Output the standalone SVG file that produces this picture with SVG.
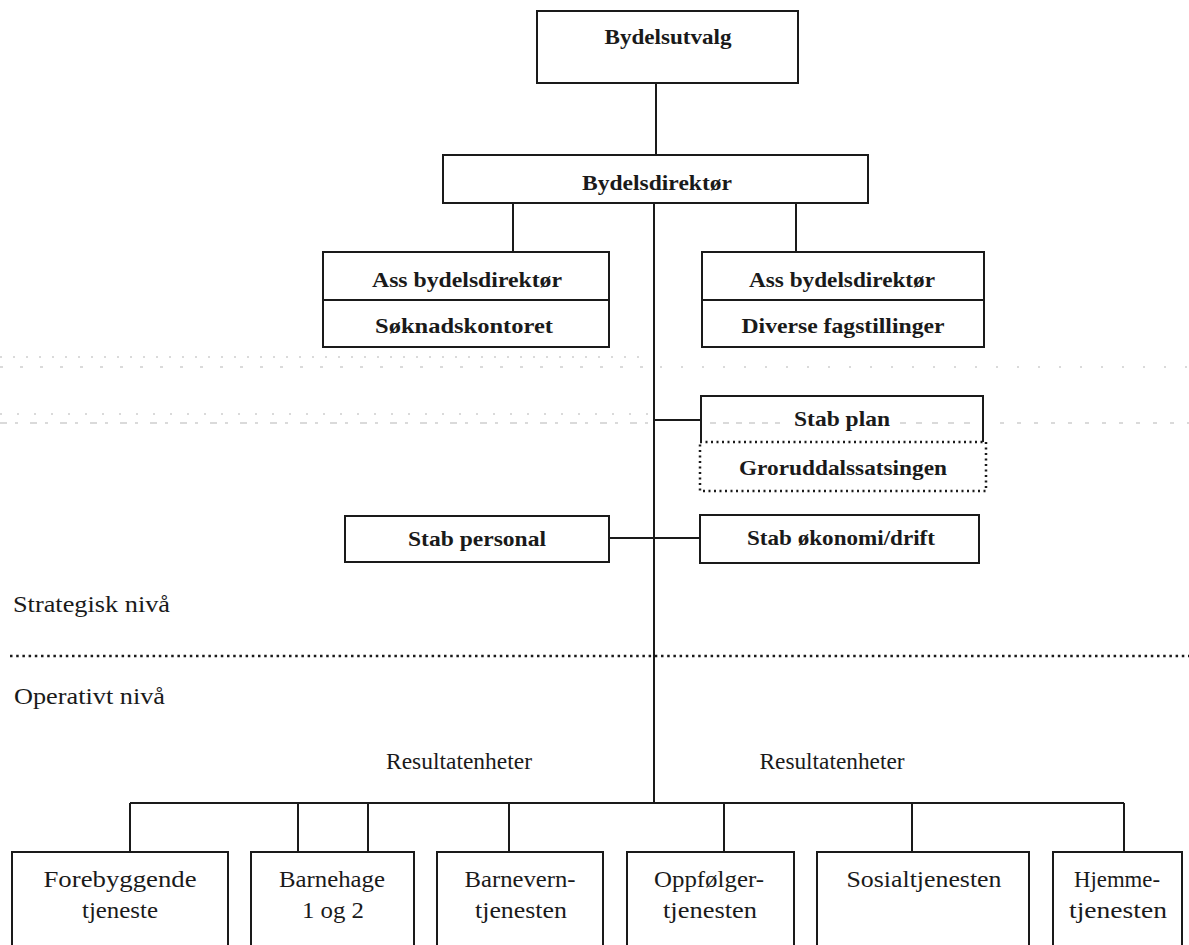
<svg xmlns="http://www.w3.org/2000/svg" width="1189" height="945" viewBox="0 0 1189 945">
<style>
.box{fill:#fff;stroke:#1a1a1a;stroke-width:2}
.dotbox{fill:none;stroke:#1a1a1a;stroke-width:2.5;stroke-dasharray:2 3.5}
.ln{fill:none;stroke:#1a1a1a;stroke-width:2}
.b{font-family:"Liberation Serif","Times New Roman",serif;font-weight:bold;font-size:21px;fill:#1a1a1a;text-anchor:middle}
.r{font-family:"Liberation Serif","Times New Roman",serif;font-size:24px;fill:#1a1a1a;text-anchor:middle}
.rl{font-family:"Liberation Serif","Times New Roman",serif;font-size:24px;fill:#1a1a1a}
.noise{fill:none;stroke:#b5b5b5;stroke-width:1.2}
</style>
<rect width="1189" height="945" fill="#fff"/>
<g id="scan-noise">
<line class="noise" x1="0" y1="357" x2="650" y2="357" stroke-dasharray="2 11"/>
<line class="noise" x1="0" y1="367" x2="650" y2="367" stroke-dasharray="3 17"/>
<line class="noise" x1="660" y1="367" x2="1189" y2="367" stroke-dasharray="2 19"/>
<line class="noise" x1="0" y1="414" x2="650" y2="414" stroke-dasharray="2 15"/>
<line class="noise" x1="0" y1="423" x2="650" y2="423" stroke-dasharray="7 8 3 12"/>
<line class="noise" x1="710" y1="423" x2="780" y2="423" stroke-dasharray="6 7"/>
<line class="noise" x1="900" y1="423" x2="975" y2="423" stroke-dasharray="6 10"/>
<line class="noise" x1="1000" y1="423" x2="1189" y2="423" stroke-dasharray="4 13"/>
</g>
<g id="connectors">
<line class="ln" x1="656" y1="83" x2="656" y2="155"/>
<line class="ln" x1="513" y1="203" x2="513" y2="252"/>
<line class="ln" x1="796" y1="203" x2="796" y2="252"/>
<line class="ln" x1="654" y1="203" x2="654" y2="803"/>
<line class="ln" x1="654" y1="420" x2="701" y2="420"/>
<line class="ln" x1="609" y1="538" x2="700" y2="538"/>
<line class="ln" x1="130" y1="803" x2="1124" y2="803"/>
<line class="ln" x1="130" y1="803" x2="130" y2="852"/>
<line class="ln" x1="298" y1="803" x2="298" y2="852"/>
<line class="ln" x1="368" y1="803" x2="368" y2="852"/>
<line class="ln" x1="509" y1="803" x2="509" y2="852"/>
<line class="ln" x1="724" y1="803" x2="724" y2="852"/>
<line class="ln" x1="912" y1="803" x2="912" y2="852"/>
<line class="ln" x1="1124" y1="803" x2="1124" y2="852"/>
</g>
<g id="level-divider">
<line x1="10" y1="656" x2="1189" y2="656" stroke="#1a1a1a" stroke-width="2.5" stroke-dasharray="2.5 3.7"/>
<text class="rl" x="13" y="612" textLength="157" lengthAdjust="spacingAndGlyphs">Strategisk nivå</text>
<text class="rl" x="14" y="704" textLength="151" lengthAdjust="spacingAndGlyphs">Operativt nivå</text>
</g>
<g id="n-bydelsutvalg">
<rect class="box" x="537" y="11" width="261" height="72"/>
<text class="b" x="668" y="44" textLength="127" lengthAdjust="spacingAndGlyphs">Bydelsutvalg</text>
</g>
<g id="n-bydelsdirektor">
<rect class="box" x="443" y="155" width="425" height="48"/>
<text class="b" x="657" y="190" textLength="150" lengthAdjust="spacingAndGlyphs">Bydelsdirektør</text>
</g>
<g id="n-ass-left">
<rect class="box" x="323" y="252" width="286" height="95"/>
<line class="ln" x1="323" y1="300" x2="609" y2="300"/>
<text class="b" x="467" y="287" textLength="190" lengthAdjust="spacingAndGlyphs">Ass bydelsdirektør</text>
<text class="b" x="464" y="333" textLength="178" lengthAdjust="spacingAndGlyphs">Søknadskontoret</text>
</g>
<g id="n-ass-right">
<rect class="box" x="702" y="252" width="282" height="95"/>
<line class="ln" x1="702" y1="300" x2="984" y2="300"/>
<text class="b" x="842" y="287" textLength="186" lengthAdjust="spacingAndGlyphs">Ass bydelsdirektør</text>
<text class="b" x="843" y="333" textLength="203" lengthAdjust="spacingAndGlyphs">Diverse fagstillinger</text>
</g>
<g id="n-stab-plan">
<path class="ln" d="M701,442 V396 H983 V442"/>
<text class="b" x="842" y="426" textLength="96" lengthAdjust="spacingAndGlyphs">Stab plan</text>
</g>
<g id="n-groruddal">
<rect class="dotbox" x="700" y="442" width="286" height="49"/>
<text class="b" x="843" y="475" textLength="208" lengthAdjust="spacingAndGlyphs">Groruddalssatsingen</text>
</g>
<g id="n-stab-personal">
<rect class="box" x="345" y="516" width="264" height="46"/>
<text class="b" x="477" y="546" textLength="138" lengthAdjust="spacingAndGlyphs">Stab personal</text>
</g>
<g id="n-stab-okonomi">
<rect class="box" x="700" y="515" width="279" height="48"/>
<text class="b" x="841" y="545" textLength="188" lengthAdjust="spacingAndGlyphs">Stab økonomi/drift</text>
</g>
<g id="labels">
<text class="r" x="459" y="769" textLength="146" lengthAdjust="spacingAndGlyphs">Resultatenheter</text>
<text class="r" x="832" y="769" textLength="145" lengthAdjust="spacingAndGlyphs">Resultatenheter</text>
</g>
<g id="n-forebyggende">
<rect class="box" x="12" y="852" width="216" height="110"/>
<text class="r" x="120" y="887" textLength="153" lengthAdjust="spacingAndGlyphs">Forebyggende</text>
<text class="r" x="120" y="918" textLength="76" lengthAdjust="spacingAndGlyphs">tjeneste</text>
</g>
<g id="n-barnehage">
<rect class="box" x="251" y="852" width="163" height="110"/>
<text class="r" x="332" y="887" textLength="106" lengthAdjust="spacingAndGlyphs">Barnehage</text>
<text class="r" x="333" y="918" textLength="62" lengthAdjust="spacingAndGlyphs">1 og 2</text>
</g>
<g id="n-barnevern">
<rect class="box" x="437" y="852" width="166" height="110"/>
<text class="r" x="520" y="887" textLength="111" lengthAdjust="spacingAndGlyphs">Barnevern-</text>
<text class="r" x="521" y="918" textLength="92" lengthAdjust="spacingAndGlyphs">tjenesten</text>
</g>
<g id="n-oppfolger">
<rect class="box" x="627" y="852" width="167" height="110"/>
<text class="r" x="709" y="887" textLength="110" lengthAdjust="spacingAndGlyphs">Oppfølger-</text>
<text class="r" x="710" y="918" textLength="94" lengthAdjust="spacingAndGlyphs">tjenesten</text>
</g>
<g id="n-sosial">
<rect class="box" x="817" y="852" width="212" height="110"/>
<text class="r" x="924" y="887" textLength="155" lengthAdjust="spacingAndGlyphs">Sosialtjenesten</text>
</g>
<g id="n-hjemme">
<rect class="box" x="1053" y="852" width="129" height="110"/>
<text class="r" x="1117" y="887" textLength="86" lengthAdjust="spacingAndGlyphs">Hjemme-</text>
<text class="r" x="1118" y="918" textLength="98" lengthAdjust="spacingAndGlyphs">tjenesten</text>
</g>
</svg>
